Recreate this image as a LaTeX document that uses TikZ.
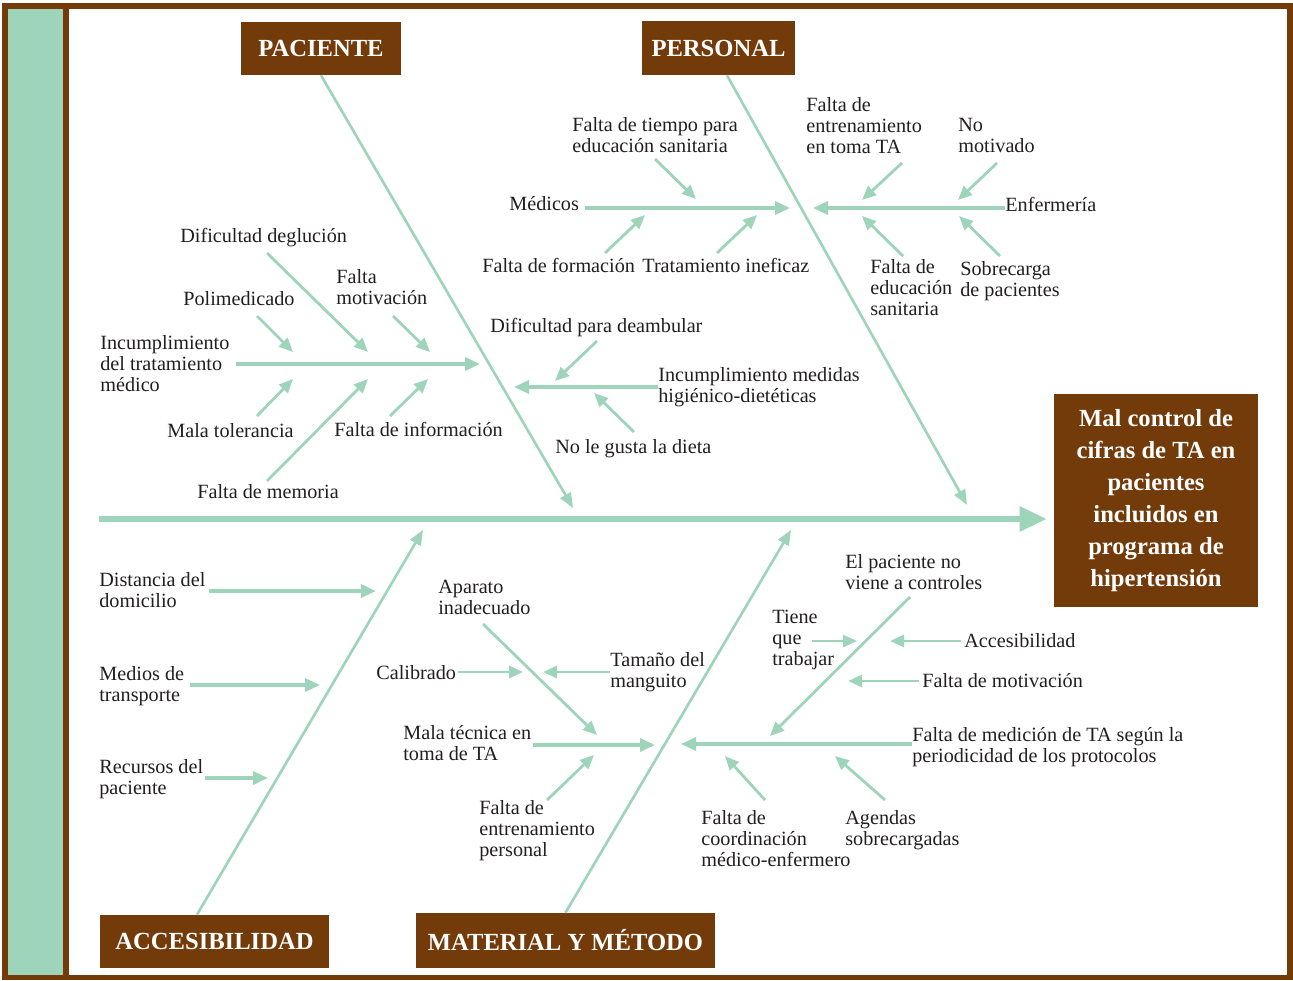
\documentclass[tikz,border=0pt]{standalone}
\usepackage{fontspec}
\setmainfont{Liberation Serif}
\usetikzlibrary{arrows.meta}
\definecolor{marron}{RGB}{115,58,10}
\definecolor{verde}{RGB}{158,212,186}
\definecolor{texto}{RGB}{35,31,32}
\tikzset{
  causa/.style={font=\fontsize{11.5}{12}\selectfont, text=texto, align=left, inner sep=0pt, anchor=north west},
  categoria/.style={fill=marron, text=white, font=\fontsize{14}{17}\selectfont\bfseries, inner sep=0pt},
  lomo/.style={draw=verde, line width=3.2pt, -{Triangle[length=0.54cm, width=0.48cm]}},
  espina/.style={draw=verde, line width=1.5pt, -{Triangle[length=0.3cm, width=0.24cm]}},
  rama/.style={draw=verde, line width=2pt, -{Triangle[length=0.3cm, width=0.26cm]}},
  subrama/.style={draw=verde, line width=1.6pt, -{Triangle[length=0.28cm, width=0.24cm]}},
}
\begin{document}
\begin{tikzpicture}[x=0.02cm, y=-0.02cm]
  \useasboundingbox (0,0) rectangle (1293,980);
  % marco con banda lateral
  \fill[marron] (2,3) rectangle (1293,980);
  \fill[white] (69,9) rectangle (1287,975);
  \fill[verde] (8,9) rectangle (63,975);

  % categorias y efecto
  \node[categoria, minimum width=3.2cm, minimum height=1.06cm] (paciente) at (321,48.5) {PACIENTE};
  \node[categoria, minimum width=3.06cm, minimum height=1.08cm] (personal) at (718.5,48) {PERSONAL};
  \node[categoria, minimum width=4.58cm, minimum height=1.06cm] (accesib) at (214.5,941.5) {ACCESIBILIDAD};
  \node[categoria, minimum width=5.98cm, minimum height=1.1cm] (material) at (565.5,940.5) {MATERIAL Y MÉTODO};
  \node[categoria, minimum width=4.08cm, minimum height=4.26cm, align=center,
        font=\fontsize{14}{18.3}\selectfont\bfseries] (efecto) at (1156,500.5)
        {Mal control de\\cifras de TA en\\pacientes\\incluidos en\\programa de\\hipertensión};

  % espina central y espinas principales
  \coordinate (cola) at (99,519);
  \draw[lomo, shorten >=0.14cm] (cola) -- (cola -| efecto.west);
  \coordinate (pacFin) at (573,508);
  \coordinate (perFin) at (967,505);
  \coordinate (accFin) at (423,530);
  \coordinate (matFin) at (791,530);
  \draw[espina] (paciente.south) -- (pacFin);
  \draw[espina] ([xshift=0.17cm]personal.south) -- (perFin);
  \draw[espina] ([xshift=-0.35cm]accesib.north) -- (accFin);
  \draw[espina] (material.north) -- (matFin);

  % PACIENTE
  \node[causa] (incump) at (100,335) {Incumplimiento\\del tratamiento\\médico};
  \coordinate (incFin) at (480,364);
  \draw[rama, shorten <=0.12cm] (incump.east |- incFin) -- (incFin);
  \node[causa] (dific) at (180,228) {Dificultad deglución};
  \node[causa] (polim) at (183,291) {Polimedicado};
  \node[causa] (faltamot) at (336,269) {Falta\\motivación};
  \node[causa] (malatol) at (167,423) {Mala tolerancia};
  \node[causa] (faltainf) at (334,422) {Falta de información};
  \node[causa] (faltamem) at (197,484) {Falta de memoria};
  \coordinate (polimA) at (257,316);    \coordinate (polimB) at (293,352);
  \coordinate (dificA) at (267,253);    \coordinate (dificB) at (368,352);
  \coordinate (faltamotA) at (393,316); \coordinate (faltamotB) at (430,352);
  \coordinate (malatolA) at (257,416);  \coordinate (malatolB) at (293,379);
  \coordinate (faltamemA) at (267,481); \coordinate (faltamemB) at (368,379);
  \coordinate (faltainfA) at (390,416); \coordinate (faltainfB) at (428,379);
  \draw[subrama] (polimA) -- (polimB);
  \draw[subrama] (dificA) -- (dificB);
  \draw[subrama] (faltamotA) -- (faltamotB);
  \draw[subrama] (malatolA) -- (malatolB);
  \draw[subrama] (faltamemA) -- (faltamemB);
  \draw[subrama] (faltainfA) -- (faltainfB);

  \node[causa] (higien) at (658,367) {Incumplimiento medidas\\higiénico-dietéticas};
  \coordinate (higFin) at (514,387);
  \draw[rama] (higien.west |- higFin) -- (higFin);
  \node[causa] (deamb) at (490,318) {Dificultad para deambular};
  \node[causa] (dieta) at (555,439) {No le gusta la dieta};
  \coordinate (deambA) at (597,341); \coordinate (deambB) at (555,381);
  \coordinate (dietaA) at (634,432); \coordinate (dietaB) at (594,393);
  \draw[subrama] (deambA) -- (deambB);
  \draw[subrama] (dietaA) -- (dietaB);

  % PERSONAL
  \node[causa] (medicos) at (509,196) {Médicos};
  \coordinate (medFin) at (790,208);
  \draw[rama, shorten <=3pt] (medicos.east |- medFin) -- (medFin);
  \node[causa] (tiempo) at (572,117) {Falta de tiempo para\\educación sanitaria};
  \node[causa] (formac) at (482,258) {Falta de formación};
  \node[causa] (tratam) at (642,258) {Tratamiento ineficaz};
  \coordinate (tiempoA) at (655,159); \coordinate (tiempoB) at (696,199);
  \coordinate (formacA) at (605,253); \coordinate (formacB) at (645,215);
  \coordinate (tratamA) at (717,253); \coordinate (tratamB) at (757,215);
  \draw[subrama] (tiempoA) -- (tiempoB);
  \draw[subrama] (formacA) -- (formacB);
  \draw[subrama] (tratamA) -- (tratamB);

  \node[causa] (enferm) at (1005,197) {Enfermería};
  \coordinate (enfFin) at (813,208);
  \draw[rama] (enferm.west |- enfFin) -- (enfFin);
  \node[causa] (entren) at (806,97) {Falta de\\entrenamiento\\en toma TA};
  \node[causa] (nomotiv) at (958,118) {No\\motivado};
  \node[causa] (educ) at (870,259) {Falta de\\educación\\sanitaria};
  \node[causa] (sobrec) at (960,261) {Sobrecarga\\de pacientes};
  \coordinate (entrenA) at (902,163);  \coordinate (entrenB) at (862,200);
  \coordinate (nomotivA) at (997,163); \coordinate (nomotivB) at (958,200);
  \coordinate (educA) at (903,256);    \coordinate (educB) at (862,216);
  \coordinate (sobrecA) at (1000,256); \coordinate (sobrecB) at (959,216);
  \draw[subrama] (entrenA) -- (entrenB);
  \draw[subrama] (nomotivA) -- (nomotivB);
  \draw[subrama] (educA) -- (educB);
  \draw[subrama] (sobrecA) -- (sobrecB);

  % ACCESIBILIDAD
  \node[causa] (distancia) at (99,572) {Distancia del\\domicilio};
  \node[causa] (medios) at (99,666) {Medios de\\transporte};
  \node[causa] (recursos) at (99,759) {Recursos del\\paciente};
  \coordinate (distFin) at (376,591);
  \coordinate (mediosFin) at (320,685);
  \coordinate (recFin) at (268,778);
  \draw[rama, shorten <=2pt] (distancia.east |- distFin) -- (distFin);
  \draw[rama, shorten <=3pt] (medios.east |- mediosFin) -- (mediosFin);
  \draw[rama, shorten <=1pt] (recursos.east |- recFin) -- (recFin);

  % MATERIAL Y METODO
  \node[causa] (aparato) at (438,580) {Aparato\\inadecuado};
  \node[causa] (calibrado) at (376,665) {Calibrado};
  \node[causa] (manguito) at (610,652) {Tamaño del\\manguito};
  \node[causa] (tecnica) at (403,725) {Mala técnica en\\toma de TA};
  \node[causa] (entrenper) at (479,800) {Falta de\\entrenamiento\\personal};
  \coordinate (aparatoA) at (483,624);   \coordinate (aparatoB) at (597,735);
  \coordinate (calibFin) at (523,672);
  \coordinate (manguitoFin) at (543,672);
  \coordinate (tecFin) at (655,745);
  \coordinate (entrenperA) at (547,800); \coordinate (entrenperB) at (594,755);
  \draw[subrama] (aparatoA) -- (aparatoB);
  \draw[subrama, shorten <=1pt] (calibrado.east |- calibFin) -- (calibFin);
  \draw[subrama] (manguito.west |- manguitoFin) -- (manguitoFin);
  \draw[rama, shorten <=1pt] (tecnica.east |- tecFin) -- (tecFin);
  \draw[subrama] (entrenperA) -- (entrenperB);

  \node[causa] (medicion) at (912,727) {Falta de medición de TA según la\\periodicidad de los protocolos};
  \node[causa] (noviene) at (845,554) {El paciente no\\viene a controles};
  \node[causa] (tiene) at (772,610) {Tiene\\que\\trabajar};
  \node[causa] (acceso) at (964,633) {Accesibilidad};
  \node[causa] (faltamotiv) at (922,673) {Falta de motivación};
  \node[causa] (coord) at (701,810) {Falta de\\coordinación\\médico-enfermero};
  \node[causa] (agendas) at (845,810) {Agendas\\sobrecargadas};
  \coordinate (medicionFin) at (681,744);
  \coordinate (novieneA) at (910,597); \coordinate (novieneB) at (770,736);
  \coordinate (tieneA) at (812,641);   \coordinate (tieneB) at (857,641);
  \coordinate (accesoFin) at (890,641);
  \coordinate (faltamotivFin) at (848,681);
  \coordinate (coordA) at (765,800);   \coordinate (coordB) at (725,756);
  \coordinate (agendasA) at (885,800); \coordinate (agendasB) at (835,756);
  \draw[rama] (medicion.west |- medicionFin) -- (medicionFin);
  \draw[subrama] (novieneA) -- (novieneB);
  \draw[subrama] (tieneA) -- (tieneB);
  \draw[subrama, shorten <=2pt] (acceso.west |- accesoFin) -- (accesoFin);
  \draw[subrama, shorten <=2pt] (faltamotiv.west |- faltamotivFin) -- (faltamotivFin);
  \draw[subrama] (coordA) -- (coordB);
  \draw[subrama] (agendasA) -- (agendasB);
\end{tikzpicture}
\end{document}
